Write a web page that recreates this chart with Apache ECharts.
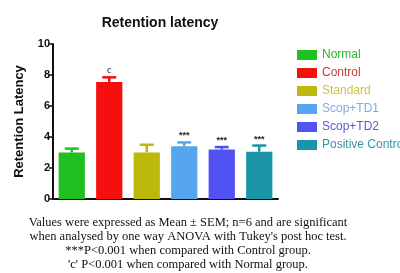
<!DOCTYPE html>
<html>
<head>
<meta charset="utf-8">
<script src="https://cdn.jsdelivr.net/npm/echarts@6/dist/echarts.min.js"></script>
<style>
  html, body { margin: 0; padding: 0; background: #fff; }
  #chart { width: 400px; height: 273px; }
</style>
</head>
<body>
<div id="chart"></div>
<script>
// ---- data ----
var groups = ['Normal', 'Control', 'Standard', 'Scop+TD1', 'Scop+TD2', 'Positive Control'];
var means  = [3.0, 7.55, 3.0, 3.4, 3.2, 3.05];
var sems   = [0.25, 0.3, 0.5, 0.25, 0.15, 0.4];
var marks  = ['', 'c', '', '***', '***', '***'];
var colors = ['#21c021', '#f50f0f', '#bdb90a', '#55a6ee', '#5252f2', '#1a95a8'];
var textColors = ['#2bb52b', '#c43c3c', '#cdc63a', '#7aaee0', '#5a5ad0', '#2f98a8'];
var yTicks = [0, 2, 4, 6, 8, 10];

var notes = [
  'Values were expressed as Mean \u00b1 SEM; n=6 and are significant',
  'when analysed by one way ANOVA with Tukey\'s post hoc test.',
  '***P<0.001 when compared with Control group.',
  '\'c\' P<0.001 when compared with Normal group.'
];

var chart = echarts.init(document.getElementById('chart'));

// one bar series per group so each gets its own legend entry
var barSeries = groups.map(function(g, i) {
  var d = groups.map(function(_, j) { return j === i ? means[i] : '-'; });
  return {
    name: g, type: 'bar', data: d, stack: 'all',
    barWidth: '70%', itemStyle: { color: colors[i] },
    silent: true, animation: false
  };
});

// error bars (upper half only) + significance marks
var errSeries = {
  type: 'custom', silent: true, animation: false, z: 5,
  data: groups.map(function(g, i) { return [i, means[i], sems[i]]; }),
  renderItem: function(params, api) {
    var i = api.value(0);
    var top = api.coord([i, api.value(1) + api.value(2)]);
    var base = api.coord([i, api.value(1)]);
    var c = colors[i];
    var children = [
      { type: 'line', shape: { x1: base[0], y1: base[1], x2: top[0], y2: top[1] }, style: { stroke: c, lineWidth: 2.5 } },
      { type: 'line', shape: { x1: top[0] - 7, y1: top[1], x2: top[0] + 7, y2: top[1] }, style: { stroke: c, lineWidth: 2.5 } }
    ];
    if (marks[i]) {
      children.push({
        type: 'text',
        style: {
          x: top[0], y: top[1] - 2, text: marks[i], align: 'center', verticalAlign: 'bottom',
          fill: '#222', font: (marks[i] === 'c' ? '10px "Liberation Serif"' : 'bold 9px "Liberation Sans"')
        }
      });
    }
    return { type: 'group', children: children };
  }
};

chart.setOption({
  animation: false,
  title: {
    text: 'Retention latency', left: 155, top: 11, textAlign: 'center',
    textStyle: { fontFamily: 'Liberation Sans', fontSize: 14, fontWeight: 'bold', color: '#111' }
  },
  legend: {
    orient: 'vertical', left: 292, top: 44, itemWidth: 20, itemHeight: 10, itemGap: 6,
    icon: 'rect',
    data: groups.map(function(g, i) {
      return { name: g, textStyle: { color: textColors[i] } };
    }),
    textStyle: { fontFamily: 'Liberation Sans', fontSize: 12, lineHeight: 12 }
  },
  grid: { left: 53, right: 122, top: 44, bottom: 74 },
  xAxis: {
    type: 'category', data: groups,
    axisLine: { lineStyle: { color: '#111', width: 2 } },
    axisTick: { alignWithLabel: true, length: 5, lineStyle: { color: '#111', width: 1.5 } },
    axisLabel: { show: false }
  },
  yAxis: {
    type: 'value', min: yTicks[0], max: yTicks[yTicks.length - 1], interval: 2,
    name: 'Retention Latency', nameLocation: 'middle', nameGap: 27,
    nameTextStyle: { fontFamily: 'Liberation Sans', fontSize: 13, fontWeight: 'bold', color: '#111' },
    axisLine: { show: true, lineStyle: { color: '#111', width: 2 } },
    axisTick: { show: true, length: 4, lineStyle: { color: '#111', width: 1.5 } },
    axisLabel: { fontFamily: 'Liberation Sans', fontSize: 11, fontWeight: 'bold', color: '#111', margin: 3 },
    splitLine: { show: false }
  },
  graphic: [{
    type: 'text', x: 188, y: 216, z: 10,
    style: {
      text: notes.join('\n'), align: 'center', fill: '#111',
      font: '12.5px "Liberation Serif"', lineHeight: 14
    }
  }],
  series: barSeries.concat([errSeries])
});
</script>
</body>
</html>
